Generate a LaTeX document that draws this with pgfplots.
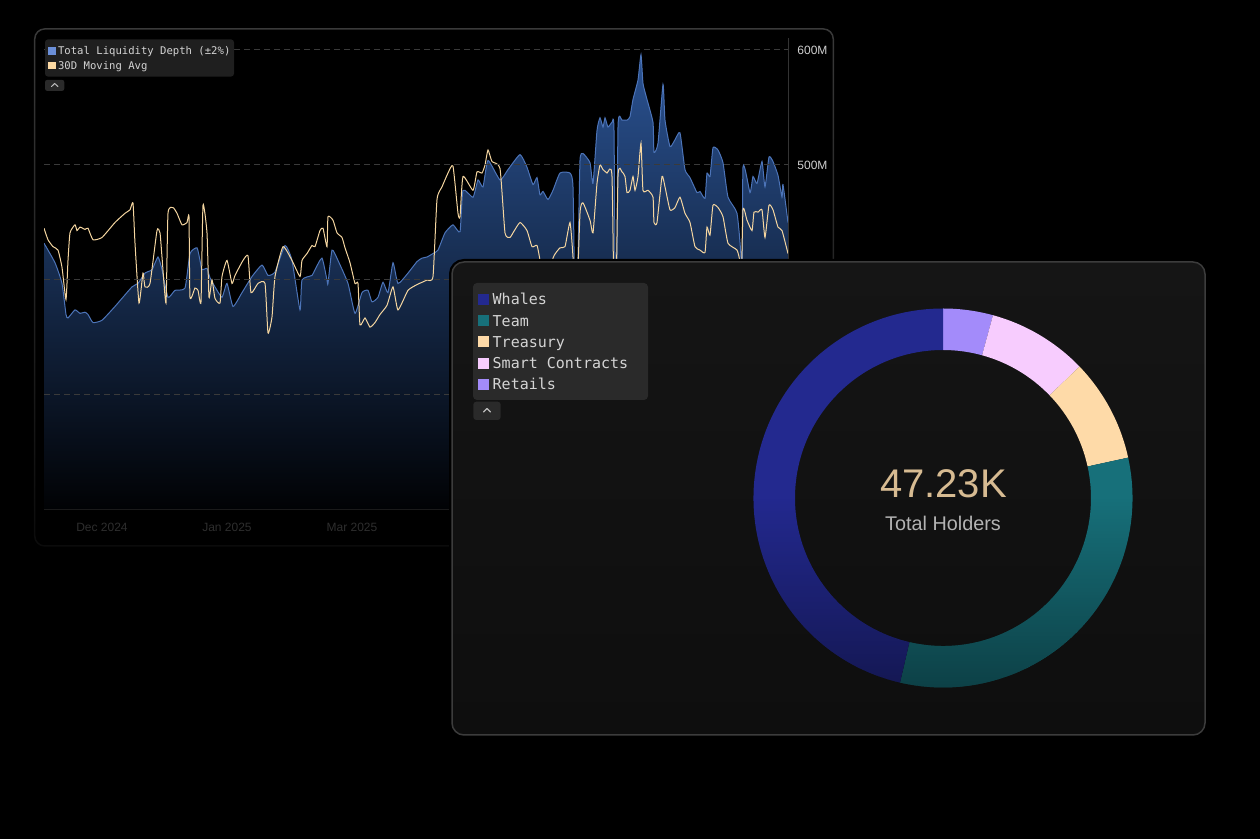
\documentclass[border=0pt]{standalone}
\usepackage{fontspec}
\setmainfont{Liberation Sans}
\newfontfamily\monofont{DejaVu Sans Mono}
\usepackage{pgfplots}
\usepackage{pgfplotstable}
\pgfplotsset{compat=1.18}
\usetikzlibrary{fadings}

\definecolor{bgpanel}{HTML}{151515}
\definecolor{bgpanelb}{HTML}{0E0E0E}
\definecolor{panelborder}{HTML}{3C3C3C}
\definecolor{leftborder}{HTML}{3A3A3A}
\definecolor{gridc}{HTML}{3A3A3A}
\definecolor{yline}{HTML}{333333}
\definecolor{xline}{HTML}{1A1A1A}
\definecolor{ylab}{HTML}{CFCFCF}
\definecolor{xlab}{HTML}{2E2E2E}
\definecolor{areatop}{HTML}{2A5292}
\definecolor{areamid}{HTML}{1C3A6E}
\definecolor{areabot}{HTML}{010204}
\definecolor{areaedge}{HTML}{4C74B8}
\definecolor{maline}{HTML}{F5D6A0}
\definecolor{legbg}{HTML}{1F1F1F}
\definecolor{legtext}{HTML}{D4D4D4}
\definecolor{sqblue}{HTML}{6B8FD8}
\definecolor{sqtan}{HTML}{FCD9A3}
\definecolor{rlegbg}{HTML}{2A2A2A}
\definecolor{btnbg}{HTML}{2A2A2A}
\definecolor{chev}{HTML}{BDBDBD}
\definecolor{cWhale}{HTML}{23298F}
\definecolor{cTeam}{HTML}{17707A}
\definecolor{cTreas}{HTML}{FEDAA8}
\definecolor{cSmart}{HTML}{F7CCFE}
\definecolor{cRet}{HTML}{A38BFA}
\definecolor{numc}{HTML}{D7BB92}
\definecolor{subc}{HTML}{B3B3B3}

\tikzfading[name=downfade, top color=transparent!100, bottom color=transparent!0]
\tikzfading[name=panelfade, top color=transparent!0, bottom color=transparent!80]

% Total liquidity depth (M), x = horizontal position along the time axis
\pgfplotstableread{
x v
44 432
55 415
62 397
66 370
68 367
75 374
80 371
85 372
88 370
93 363
102 365
115 377
132 394
138 397
145 406
152 409
158 420
162 409
168 385
175 391
185 393
190 423
197 428
200 417
202 409
207 410
210 402
215 394
222 385
227 397
233 377
242 389
252 403
262 413
268 404
275 407
285 430
292 417
300 374
302 400
312 404
315 409
322 419
327 400
328 397
332 426
338 417
348 397
355 371
362 389
368 391
372 381
378 385
383 398
388 389
393 415
398 397
408 406
417 416
422 419
427 420
433 423
438 426
445 441
453 448
460 442
463 478
473 472
478 487
483 481
488 504
500 487
508 496
520 509
527 498
533 483
537 489
540 474
543 477
548 470
553 478
560 493
570 493
573 481
575 380
578 420
580 504
583 510
590 502
593 484
597 530
600 541
603 533
605 541
608 533
612 537
614 530
616 330
618 533
622 539
627 539
630 542
633 557
638 574
641 596
643 571
647 557
653 537
654 511
658 519
663 570
665 539
670 516
675 522
680 528
685 496
690 489
697 476
700 477
705 471
707 493
710 490
713 515
718 513
723 502
728 472
737 458
741 420
742 360
743 498
750 476
753 490
757 484
762 503
765 481
769 507
773 503
778 491
782 472
783 483
788 450
}\liq

% 30D moving average (M)
\pgfplotstableread{
x v
44 445
48 435
53 429
58 426
62 411
66 383
68 417
70 441
75 448
77 443
80 446
85 444
88 445
93 435
102 437
115 450
125 458
130 461
133 467
135 432
139 380
143 406
145 394
150 397
157 443
160 441
162 420
166 380
168 458
173 463
177 458
182 448
187 450
189 455
190 385
195 393
198 391
201 381
203 465
207 441
209 385
212 400
215 384
220 380
222 403
227 417
232 397
235 404
243 417
248 421
251 389
258 397
265 397
268 354
272 368
275 403
283 429
292 417
300 403
302 417
307 423
312 430
315 429
320 443
323 445
327 429
328 455
333 452
337 441
342 437
345 428
350 415
355 397
358 397
360 361
365 367
370 359
375 363
380 370
387 378
393 394
398 374
408 391
417 396
422 398
427 400
433 403
437 470
442 481
448 493
453 499
458 458
460 455
463 490
473 478
477 494
482 493
485 500
488 513
492 503
500 497
505 441
510 437
513 441
520 450
527 443
532 429
537 430
540 417
545 383
550 391
553 419
560 428
565 429
570 450
573 420
576 365
580 458
583 467
590 452
593 441
597 484
600 500
603 496
607 493
612 490
615 330
618 490
622 494
625 490
627 476
630 478
633 490
635 478
638 490
641 519
643 478
648 478
653 472
654 450
657 450
662 490
665 481
670 461
675 463
680 472
685 458
690 450
695 429
700 426
705 424
707 446
710 439
713 465
718 463
723 455
728 432
737 426
740 415
741 383
743 461
747 452
752 443
754 459
758 459
762 461
765 437
769 465
773 461
778 446
782 443
788 423
}\ma

% Holder distribution (percent of 47.23K), clockwise from the top
\pgfplotstableread{
name share
Retails 4.25
SmartContracts 8.55
Treasury 8.78
Team 32.06
Whales 46.36
}\holders

\pgfplotstablegetelem{0}{share}\of\holders\edef\sA{\pgfplotsretval}
\pgfplotstablegetelem{1}{share}\of\holders\edef\sB{\pgfplotsretval}
\pgfplotstablegetelem{2}{share}\of\holders\edef\sC{\pgfplotsretval}
\pgfplotstablegetelem{3}{share}\of\holders\edef\sD{\pgfplotsretval}
\pgfplotstablegetelem{4}{share}\of\holders\edef\sE{\pgfplotsretval}
\pgfmathsetmacro\aA{90}
\pgfmathsetmacro\aB{\aA-3.6*\sA}
\pgfmathsetmacro\aC{\aB-3.6*\sB}
\pgfmathsetmacro\aD{\aC-3.6*\sC}
\pgfmathsetmacro\aE{\aD-3.6*\sD}
\pgfmathsetmacro\aF{\aE-3.6*\sE}

\newcommand\ringseg[3]{%
  \fill[#3] (axis cs:{189.5*cos(#1)},{189.5*sin(#1)}) arc[start angle=#1, end angle=#2, radius=94.75pt]
    -- (axis cs:{148*cos(#2)},{148*sin(#2)}) arc[start angle=#2, end angle=#1, radius=74pt] -- cycle;}

\begin{document}
\begin{tikzpicture}
\useasboundingbox (0,0) rectangle (630pt,-419.5pt);
\fill[black] (0,0) rectangle (630pt,-419.5pt);

% ---------- left panel ----------
\draw[leftborder, line width=0.75pt, rounded corners=5pt, path fading=panelfade]
  (17.5pt,-14.5pt) rectangle (417pt,-273pt);

\begin{axis}[
  at={(22pt,-255pt)}, anchor=south west,
  scale only axis, width=372pt, height=235.75pt,
  xmin=44, xmax=788, ymin=200, ymax=610,
  axis x line*=bottom, axis y line*=right,
  x axis line style={draw=xline, line width=0.5pt, -},
  y axis line style={draw=yline, line width=0.5pt, -},
  xtick={102,227,352}, xticklabels={Dec 2024,Jan 2025,Mar 2025},
  ytick={300,400,500,600}, yticklabels={300M,400M,500M,600M},
  major tick length=0pt,
  ymajorgrids,
  major grid style={draw=gridc, line width=0.5pt, dash pattern=on 3pt off 2pt},
  xticklabel style={font=\fontsize{6}{6}\selectfont, text=xlab, anchor=center, yshift=-8.5pt},
  yticklabel style={font=\fontsize{6}{6}\selectfont, text=ylab, anchor=west, xshift=1.2pt},
  axis on top,
]
\addplot[draw=none, top color=areatop, middle color=areamid, bottom color=areabot, smooth, tension=0.3]
  table[x=x, y=v]{\liq} -- (axis cs:788,200) -- (axis cs:44,200) -- cycle;
\addplot[areaedge, line width=0.5pt, smooth, tension=0.3] table[x=x, y=v]{\liq};
\addplot[maline, line width=0.5pt, smooth, tension=0.3] table[x=x, y=v]{\ma};
\end{axis}

% left legend
\fill[legbg, rounded corners=1.5pt] (22.5pt,-19.7pt) rectangle (117pt,-38.3pt);
\fill[sqblue] (24.15pt,-23.65pt) rectangle (27.85pt,-27.35pt);
\fill[sqtan] (24.15pt,-31pt) rectangle (27.85pt,-34.65pt);
\node[anchor=base west, inner sep=0pt, text=legtext, font=\monofont\fontsize{5.3}{6}\selectfont]
  at (28.85pt,-27.5pt) {Total Liquidity Depth (±2\%)};
\node[anchor=base west, inner sep=0pt, text=legtext, font=\monofont\fontsize{5.3}{6}\selectfont]
  at (28.85pt,-34.65pt) {30D Moving Avg};
\fill[btnbg, rounded corners=1.2pt] (22.5pt,-39.9pt) rectangle (32.15pt,-45.5pt);
\draw[chev, line width=0.5pt, line cap=round, line join=round] (25.75pt,-43.25pt) -- (27.35pt,-41.75pt) -- (28.95pt,-43.25pt);

% ---------- right panel ----------
\draw[black, line width=3pt, rounded corners=6pt] (226pt,-131pt) rectangle (602.5pt,-367.5pt);
\shade[top color=bgpanel, bottom color=bgpanelb, rounded corners=6pt] (226pt,-131pt) rectangle (602.5pt,-367.5pt);
\draw[panelborder, line width=0.75pt, rounded corners=6pt] (226pt,-131pt) rectangle (602.5pt,-367.5pt);

\begin{axis}[
  at={(371.5pt,-349pt)}, anchor=south west,
  scale only axis, width=200pt, height=200pt,
  xmin=-200, xmax=200, ymin=-200, ymax=200,
  hide axis, clip=false,
]
\ringseg{\aA}{\aB}{cRet}
\ringseg{\aB}{\aC}{cSmart}
\ringseg{\aC}{\aD}{cTreas}
\ringseg{\aD}{\aE}{cTeam}
\ringseg{\aE}{\aF}{cWhale}
% darkening of the lower half of the ring
\fill[black, fill opacity=0.42, path fading=downfade]
  (axis cs:-189.5,0) arc[start angle=180, end angle=360, radius=94.75pt]
  -- (axis cs:148,0) arc[start angle=360, end angle=180, radius=74pt] -- cycle;
\node[anchor=base, inner sep=0pt, text=numc, font=\fontsize{20}{20}\selectfont] at (axis cs:0.5,0.7) {47.23K};
\node[anchor=base, inner sep=0pt, text=subc, font=\fontsize{9.9}{10}\selectfont] at (axis cs:0,-32.7) {Total Holders};
\end{axis}

% right legend
\fill[rlegbg, rounded corners=2pt] (236.5pt,-141.5pt) rectangle (324pt,-200pt);
\fill[cWhale] (239.15pt,-147pt) rectangle (244.65pt,-152.5pt);
\fill[cTeam] (239.15pt,-157.625pt) rectangle (244.65pt,-163.125pt);
\fill[cTreas] (239.15pt,-168.25pt) rectangle (244.65pt,-173.75pt);
\fill[cSmart] (239.15pt,-178.875pt) rectangle (244.65pt,-184.375pt);
\fill[cRet] (239.15pt,-189.5pt) rectangle (244.65pt,-195pt);
\begin{scope}[every node/.style={anchor=base west, inner sep=0pt, text=legtext, font=\monofont\fontsize{7.5}{8}\selectfont}]
\node at (246.15pt,-152.45pt) {Whales};
\node at (246.15pt,-163.1pt) {Team};
\node at (246.15pt,-173.7pt) {Treasury};
\node at (246.15pt,-184.35pt) {Smart Contracts};
\node at (246.15pt,-194.95pt) {Retails};
\end{scope}
\fill[btnbg, rounded corners=1.5pt] (236.65pt,-200.85pt) rectangle (250.35pt,-210pt);
\draw[chev, line width=0.55pt, line cap=round, line join=round] (241.75pt,-206pt) -- (243.5pt,-204.25pt) -- (245.25pt,-206pt);
\end{tikzpicture}
\end{document}
